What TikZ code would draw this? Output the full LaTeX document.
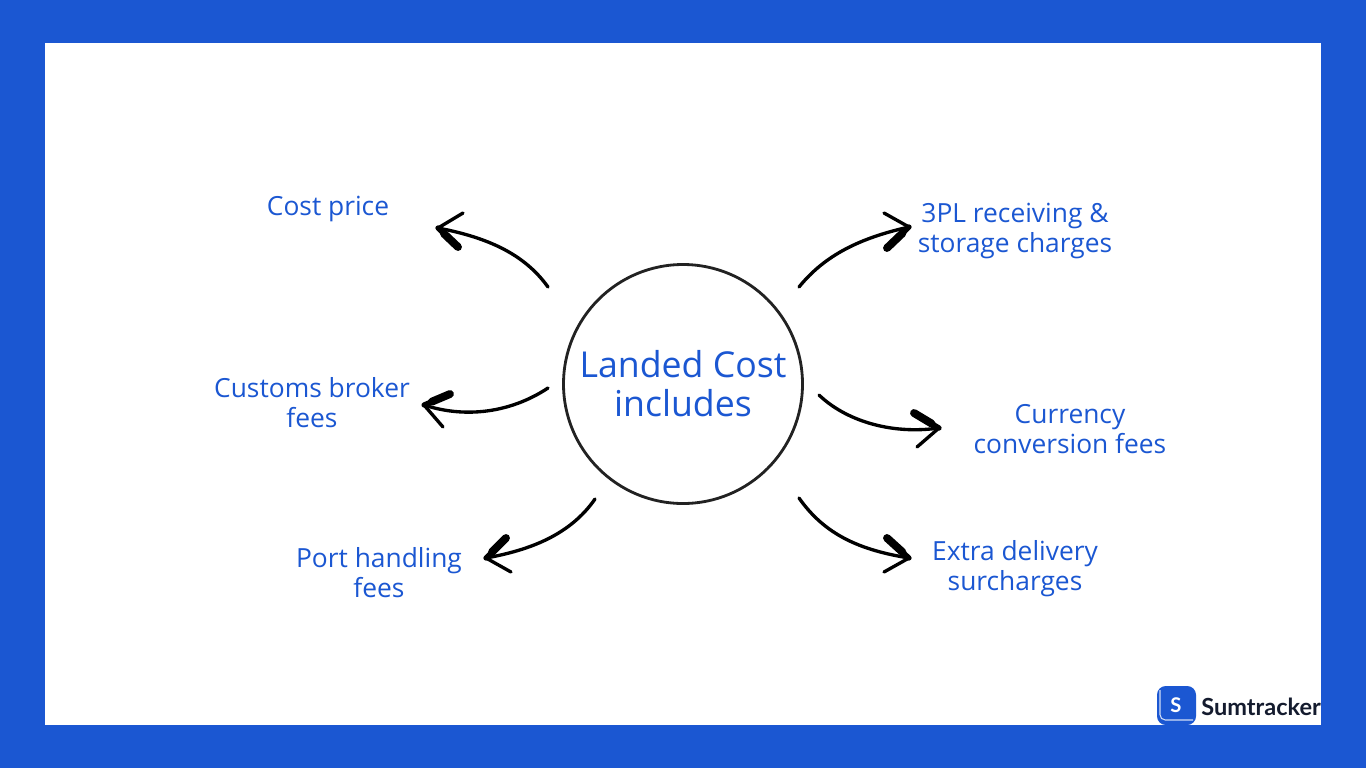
\documentclass[tikz,border=0pt]{standalone}
\usepackage{fontspec}
\setmainfont{Open Sans}
\newfontfamily\logofont{Lato}
\usepackage{tikz}
\usetikzlibrary{positioning, calc}
\definecolor{Sum_Blue}{HTML}{1B57D2}
\definecolor{Sum_Ink}{HTML}{141B2E}
\definecolor{Hub_Ink}{HTML}{222222}
\newcommand{\handarrow}[6]{%
    \coordinate (tip#1) at #2;
    \coordinate (thin#1) at #3;
    \coordinate (fat#1) at #4;
    \draw[shaft] (start#1) .. controls #5 and #6 .. (tip#1);
    \draw[shaft] (tip#1) -- (thin#1);
    \draw[shaft, line width=3pt] (tip#1) -- (fat#1);
    \draw[shaft, line width=4.5pt] ($(tip#1)!0.3!(fat#1)$) -- (fat#1);
}
\begin{document}
\begin{tikzpicture}[x=0.02cm, y=-0.02cm,
    shaft/.style={draw=black, line width=1.9pt, line cap=round, line join=round},
    item/.style={text=Sum_Blue, align=center, font=\fontsize{15}{17}\selectfont, inner sep=0pt}]

    % Frame
    \fill[Sum_Blue] (0,0) rectangle (1366,768);
    \fill[white] (45,43) rectangle (1321,725);
    \useasboundingbox (0,0) rectangle (1366,768);

    % Hub
    \node[draw=Hub_Ink, line width=1.6pt, circle, minimum size=239*0.02cm, inner sep=0pt, text=Sum_Blue, align=center, font=\fontsize{20.3}{22.2}\selectfont] (hub) at (683,384) {Landed Cost\\includes};

    % Labels
    \node[item] (cost) at (328,209) {Cost price};
    \node[item] (customs) at (312,403) {Customs broker\\fees};
    \node[item] (port) at (379,573) {Port handling\\fees};
    \node[item] (storage) at (1015,231) {3PL receiving \&\\storage charges};
    \node[item] (currency) at (1070,429) {Currency\\conversion fees};
    \node[item] (delivery) at (1015,569) {Extra delivery\\surcharges};

    % Arrows
    \coordinate (startcost) at (548,287);
    \coordinate (startcustoms) at (548,388);
    \coordinate (startport) at (595,499);
    \coordinate (startstorage) at (799,287);
    \coordinate (startcurrency) at (819,395);
    \coordinate (startdelivery) at (799,498);
    \handarrow{cost}{(438,228)}{(463,213)}{(458,247)}{(525,255)}{(490,238)}
    \handarrow{customs}{(424,405)}{(443,427)}{(450,394)}{(515,410)}{(470,420)}
    \handarrow{port}{(486,558)}{(511,572)}{(506,538)}{(570,535)}{(530,550)}
    \handarrow{storage}{(909,227)}{(884,213)}{(887,248)}{(825,255)}{(860,238)}
    \handarrow{currency}{(939,428)}{(917,447)}{(914,413)}{(845,420)}{(890,435)}
    \handarrow{delivery}{(909,558)}{(884,572)}{(887,538)}{(825,535)}{(860,550)}

    % Logo
    \fill[Sum_Blue, rounded corners=5pt] (1157,686) rectangle (1196,725);
    \draw[white!80!Sum_Blue, line width=0.6pt, rounded corners=3pt] (1160,690) -- (1160,720) -- (1193,720);
    \node[text=white, font=\logofont\fontsize{11.5}{11.5}\selectfont\bfseries, inner sep=0pt] (logoS) at (1176,705) {S};
    \node[text=Sum_Ink, font=\logofont\fontsize{13.4}{14}\selectfont\bfseries, inner sep=0pt, anchor=west] (logo) at (1201,707) {Sumtracker};
\end{tikzpicture}
\end{document}
